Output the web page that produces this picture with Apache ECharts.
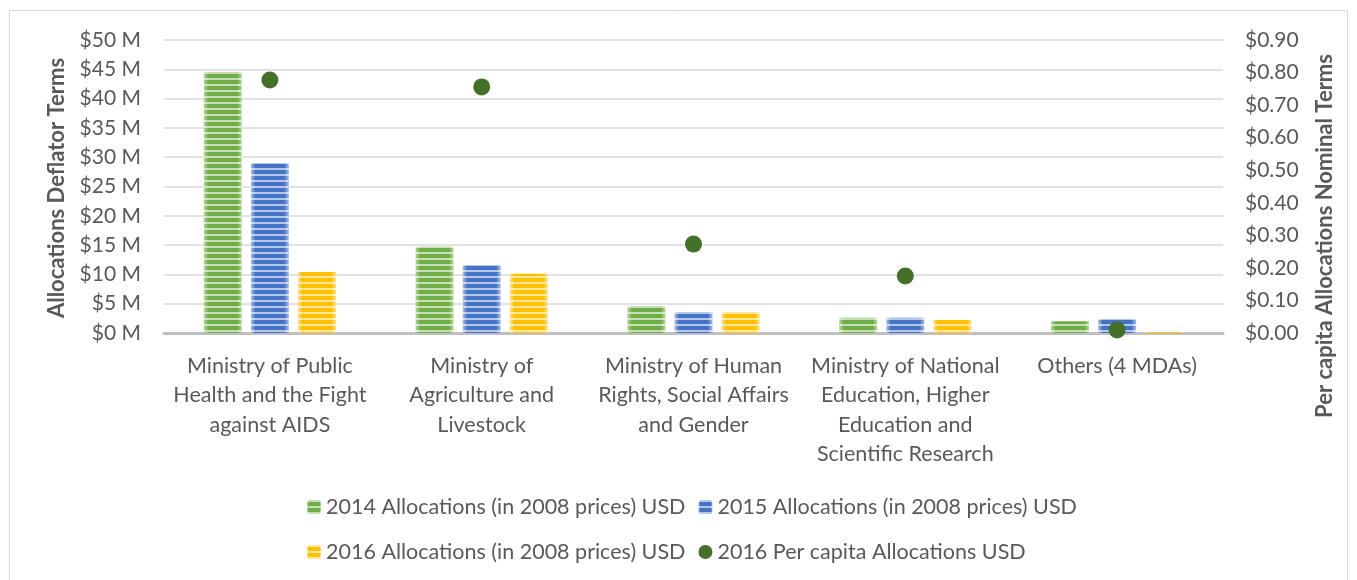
<!DOCTYPE html>
<html>
<head>
<meta charset="utf-8">
<script src="https://cdn.jsdelivr.net/npm/echarts@6/dist/echarts.min.js"></script>
<style>
  html, body { margin: 0; padding: 0; background: #fff; }
  #chart { width: 1357px; height: 580px; }
</style>
</head>
<body>
<div id="chart"></div>
<script>
// data
const categories = [
  "Ministry of Public\nHealth and the Fight\nagainst AIDS",
  "Ministry of\nAgriculture and\nLivestock",
  "Ministry of Human\nRights, Social Affairs\nand Gender",
  "Ministry of National\nEducation, Higher\nEducation and\nScientific Research",
  "Others (4 MDAs)"
];
const alloc2014 = [44.5, 14.7, 4.6, 2.6, 2.0];   // $ M
const alloc2015 = [29.0, 11.6, 3.6, 2.6, 2.4];
const alloc2016 = [10.4, 10.1, 3.6, 2.2, 0.15];
const perCapita2016 = [0.777, 0.756, 0.273, 0.175, 0.009]; // $

const seriesNames = [
  "2014 Allocations (in 2008 prices) USD",
  "2015 Allocations (in 2008 prices) USD",
  "2016 Allocations (in 2008 prices) USD",
  "2016 Per capita Allocations USD"
];

const FONT = "Lato";
const FS = 21.5;
const TXT = "#595959";

// striped bar fill: light edges, darker middle, white stripes via decal
function barStyle(dark, light) {
  return {
    color: {
      type: "linear", x: 0, y: 0, x2: 1, y2: 0,
      colorStops: [
        { offset: 0, color: light },
        { offset: 0.12, color: dark },
        { offset: 0.88, color: dark },
        { offset: 1, color: light }
      ]
    },
    decal: {
      symbol: "rect",
      symbolSize: 1,
      dashArrayX: [1, 0],
      dashArrayY: [2, 4],
      rotation: 0,
      color: "rgba(255,255,255,0.6)"
    }
  };
}

const chart = echarts.init(document.getElementById("chart"), null, { renderer: "canvas" });

const legendText = { fontFamily: FONT, fontSize: FS, color: TXT, lineHeight: 24 };

const option = {
  backgroundColor: "#fff",
  animation: false,
  textStyle: { fontFamily: FONT },
  grid: { left: 164, right: 134, top: 40, bottom: 247 },
  legend: [
    {
      data: [seriesNames[0], seriesNames[1]],
      left: 302, top: 490,
      itemWidth: 14, itemHeight: 14, itemGap: 13,
      textStyle: legendText
    },
    {
      data: [seriesNames[2], seriesNames[3]],
      left: 302, top: 535,
      itemWidth: 14, itemHeight: 14, itemGap: 13,
      textStyle: legendText
    }
  ],
  xAxis: {
    type: "category",
    data: categories,
    axisLine: { lineStyle: { color: "#bfbfbf", width: 3 } },
    axisTick: { show: false },
    axisLabel: {
      interval: 0, margin: 18, lineHeight: 29.5,
      fontFamily: FONT, fontSize: FS, color: TXT
    }
  },
  yAxis: [
    {
      type: "value", min: 0, max: 50, interval: 5,
      axisLine: { show: false }, axisTick: { show: false },
      splitLine: { lineStyle: { color: "#d9d9d9", width: 1.5 } },
      axisLabel: {
        margin: 23, fontFamily: FONT, fontSize: 21, color: TXT,
        formatter: v => "$" + v + " M"
      }
    },
    {
      type: "value", min: 0, max: 0.9, interval: 0.1,
      position: "right",
      axisLine: { show: false }, axisTick: { show: false },
      splitLine: { show: false },
      axisLabel: {
        margin: 22, fontFamily: FONT, fontSize: 21, color: TXT,
        formatter: v => "$" + v.toFixed(2)
      }
    }
  ],
  series: [
    {
      name: seriesNames[0], type: "bar", data: alloc2014,
      barWidth: 38, barGap: "24%",
      itemStyle: barStyle("#70ad47", "#b5d69c")
    },
    {
      name: seriesNames[1], type: "bar", data: alloc2015,
      barWidth: 38, barGap: "24%",
      itemStyle: barStyle("#4472c4", "#a9bfe6")
    },
    {
      name: seriesNames[2], type: "bar", data: alloc2016,
      barWidth: 38, barGap: "24%",
      itemStyle: barStyle("#ffc000", "#ffe08a")
    },
    {
      name: seriesNames[3], type: "scatter", data: perCapita2016,
      yAxisIndex: 1, symbol: "circle", symbolSize: 17, z: 5,
      itemStyle: { color: "#44702a", opacity: 1 }
    }
  ],
  graphic: [
    {
      type: "rect", silent: true,
      shape: { x: 9.5, y: 10.5, width: 1338, height: 600 },
      style: { fill: "none", stroke: "#d9d9d9", lineWidth: 1 }
    },
    {
      type: "text", x: 57, y: 188, rotation: Math.PI / 2,
      style: {
        text: "Allocations Deflator Terms", fontFamily: FONT, fontSize: 22,
        fontWeight: "bold", fill: TXT, align: "center", verticalAlign: "middle"
      }
    },
    {
      type: "text", x: 1325, y: 236, rotation: Math.PI / 2,
      style: {
        text: "Per capita Allocations Nominal Terms", fontFamily: FONT, fontSize: 22,
        fontWeight: "bold", fill: TXT, align: "center", verticalAlign: "middle"
      }
    }
  ]
};

chart.setOption(option);
</script>
</body>
</html>
